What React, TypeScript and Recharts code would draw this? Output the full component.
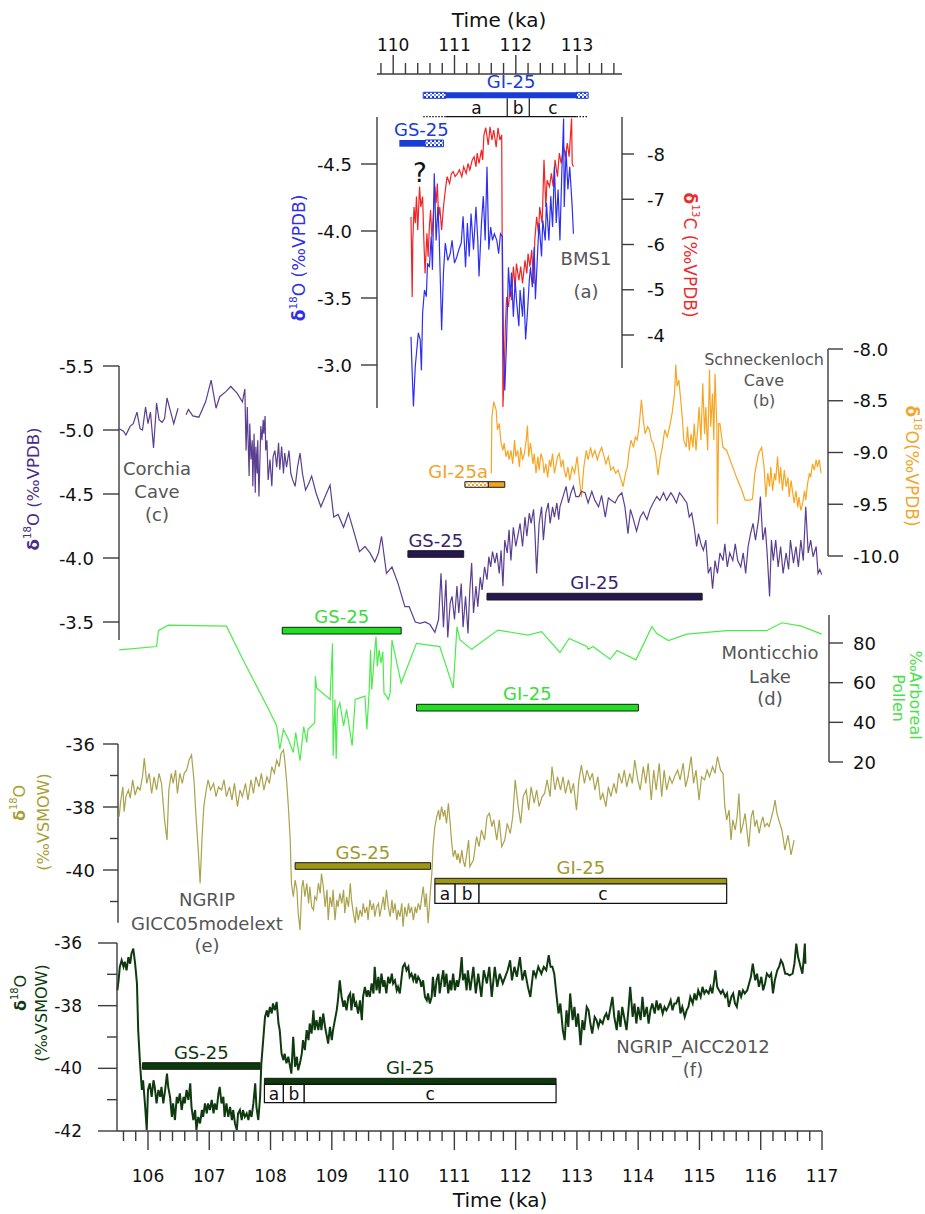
import React from 'react';
import { ComposedChart, Line, XAxis, YAxis, ReferenceArea, ReferenceLine } from 'recharts';

type Pair = [number, number | null];
type Span = [number, number];
type Phase = [string, number, number];

// ---- data (time in ka, isotope values in permil, pollen in %) ----

const bms1D18O: Pair[] = [
  [110.29, -3.21], [110.31, -2.94], [110.33, -2.69], [110.36, -2.99], [110.38, -3.09], [110.41, -3.24],
  [110.44, -3.19], [110.46, -2.96], [110.48, -3.39], [110.51, -3.56], [110.54, -3.51], [110.56, -3.76],
  [110.59, -3.73], [110.62, -3.96], [110.64, -3.71], [110.67, -4.43], [110.7, -3.93], [110.73, -4.18],
  [110.75, -3.96], [110.79, -3.26], [110.82, -3.69], [110.85, -3.91], [110.89, -3.78], [110.93, -3.83],
  [110.96, -3.93], [111.0, -3.76], [111.04, -3.81], [111.07, -3.86], [111.11, -3.91], [111.14, -4.11],
  [111.18, -3.73], [111.21, -4.06], [111.24, -3.81], [111.27, -4.13], [111.31, -3.86], [111.35, -4.18],
  [111.38, -3.93], [111.4, -3.66], [111.44, -4.06], [111.47, -4.26], [111.5, -3.93], [111.53, -4.48],
  [111.56, -3.86], [111.59, -4.03], [111.62, -3.93], [111.65, -3.98], [111.69, -3.93], [111.72, -3.83],
  [111.75, -3.98], [111.78, -3.96], [111.8, -3.09], [111.82, -2.81], [111.85, -3.19], [111.88, -3.73],
  [111.91, -3.51], [111.93, -3.69], [111.96, -3.36], [111.99, -3.63], [112.01, -3.49], [112.05, -3.29],
  [112.07, -3.56], [112.11, -3.36], [112.13, -3.58], [112.16, -3.19], [112.19, -3.39], [112.22, -3.63],
  [112.24, -3.73], [112.27, -3.58], [112.3, -3.88], [112.32, -3.49], [112.36, -3.88], [112.38, -4.06],
  [112.42, -3.81], [112.44, -4.08], [112.48, -3.93], [112.5, -4.21], [112.54, -3.93], [112.57, -4.26],
  [112.6, -4.03], [112.63, -4.48], [112.66, -4.06], [112.69, -4.31], [112.72, -3.93], [112.75, -4.43],
  [112.78, -4.84], [112.79, -4.18], [112.82, -4.6], [112.85, -4.31], [112.88, -4.48], [112.92, -4.18],
  [112.94, -3.98],
];

const bms1D13C: Pair[] = [
  [110.29, -6.61], [110.31, -4.84], [110.32, -6.1], [110.34, -6.83], [110.36, -6.47], [110.38, -7.06],
  [110.4, -6.32], [110.43, -7.28], [110.45, -6.83], [110.48, -7.06], [110.5, -6.1], [110.52, -5.36],
  [110.55, -6.25], [110.57, -5.73], [110.59, -6.39], [110.61, -6.76], [110.63, -6.17], [110.65, -6.54],
  [110.68, -7.28], [110.7, -6.91], [110.72, -7.35], [110.74, -6.61], [110.76, -6.83], [110.79, -6.32],
  [110.82, -6.83], [110.85, -7.2], [110.88, -7.5], [110.92, -7.35], [110.95, -7.57], [110.98, -7.61],
  [111.01, -7.5], [111.05, -7.57], [111.08, -7.65], [111.12, -7.5], [111.15, -7.72], [111.19, -7.57],
  [111.22, -7.79], [111.25, -7.65], [111.29, -7.87], [111.32, -7.94], [111.35, -7.72], [111.37, -8.02],
  [111.4, -7.79], [111.44, -8.09], [111.46, -7.87], [111.48, -8.42], [111.51, -8.58], [111.55, -8.2],
  [111.58, -8.6], [111.61, -8.31], [111.64, -8.53], [111.68, -8.15], [111.71, -8.58], [111.74, -8.31],
  [111.77, -8.42], [111.79, -2.41], [111.81, -3.15], [111.83, -4.18], [111.85, -4.84], [111.88, -4.62],
  [111.91, -5.06], [111.93, -4.77], [111.96, -5.51], [111.99, -5.06], [112.01, -5.58], [112.05, -5.21],
  [112.08, -5.51], [112.11, -5.14], [112.15, -5.65], [112.18, -5.36], [112.2, -5.8], [112.23, -5.51],
  [112.26, -5.88], [112.29, -5.14], [112.31, -6.1], [112.34, -6.61], [112.37, -6.25], [112.39, -6.83],
  [112.43, -6.47], [112.46, -7.87], [112.49, -6.83], [112.51, -7.42], [112.55, -7.28], [112.58, -7.57],
  [112.61, -7.28], [112.64, -7.87], [112.68, -7.5], [112.71, -8.02], [112.74, -7.79], [112.78, -8.16],
  [112.81, -7.94], [112.84, -8.24], [112.87, -7.94], [112.91, -8.79], [112.92, -7.79], [112.94, -7.72],
];

const corchiaD18O: Pair[] = [
  [105.53, -5.01], [105.6, -4.99], [105.64, -4.96], [105.71, -5.03], [105.76, -5.05], [105.82, -5.14],
  [105.87, -5.01], [105.91, -5.0], [105.96, -5.18], [106.0, -5.05], [106.04, -5.14], [106.09, -4.86],
  [106.14, -5.21], [106.18, -5.08], [106.23, -5.06], [106.27, -5.09], [106.31, -5.25], [106.37, -5.14],
  [106.42, -5.05], [106.49, -5.17], [106.55, null], [106.62, -5.12], [106.66, -5.16], [106.73, -5.11],
  [106.83, -5.1], [106.94, -5.22], [107.03, -5.39], [107.11, -5.17], [107.17, -5.26], [107.27, -5.3],
  [107.35, -5.34], [107.45, -5.29], [107.54, -5.22], [107.58, -5.32], [107.6, -4.84], [107.62, -5.18],
  [107.63, -4.97], [107.65, -4.64], [107.66, -5.05], [107.68, -4.77], [107.7, -4.92], [107.71, -4.56],
  [107.73, -4.97], [107.75, -4.51], [107.76, -4.87], [107.78, -4.66], [107.79, -4.92], [107.81, -4.48],
  [107.83, -4.84], [107.84, -5.03], [107.86, -4.92], [107.88, -5.08], [107.89, -4.97], [107.91, -5.11],
  [107.92, -4.84], [107.94, -4.92], [107.96, -4.61], [107.99, -4.77], [108.02, -4.56], [108.04, -4.79],
  [108.07, -4.84], [108.1, -4.71], [108.13, -4.9], [108.15, -4.69], [108.18, -4.87], [108.21, -4.66],
  [108.23, -4.82], [108.26, -4.71], [108.3, -4.84], [108.33, -4.66], [108.36, -4.61], [108.4, -4.56],
  [108.44, -4.71], [108.48, -4.82], [108.52, -4.66], [108.57, -4.53], [108.62, -4.58], [108.67, -4.64],
  [108.74, -4.51], [108.82, -4.4], [108.89, -4.48], [108.97, -4.57], [109.03, -4.32], [109.1, -4.34],
  [109.19, -4.24], [109.27, -4.35], [109.35, -4.22], [109.45, -4.05], [109.54, -4.09], [109.62, -4.04],
  [109.7, -3.97], [109.76, -4.04], [109.81, -4.17], [109.89, -3.88], [109.98, -3.93], [110.08, -3.8],
  [110.19, -3.62], [110.26, -3.62], [110.36, -3.5], [110.44, -3.49], [110.52, -3.5], [110.6, -3.48],
  [110.68, -3.42], [110.74, -3.52], [110.78, -3.88], [110.82, -3.46], [110.86, -3.83], [110.89, -3.38],
  [110.93, -3.65], [110.96, -3.7], [111.0, -3.52], [111.04, -3.78], [111.07, -3.57], [111.11, -3.8],
  [111.14, -3.46], [111.18, -3.7], [111.22, -3.41], [111.25, -3.75], [111.28, -3.96], [111.31, -3.57],
  [111.35, -3.78], [111.38, -3.62], [111.42, -3.85], [111.45, -3.75], [111.49, -3.93], [111.53, -3.83],
  [111.56, -4.01], [111.59, -3.93], [111.62, -4.05], [111.66, -3.96], [111.69, -4.04], [111.73, -3.88],
  [111.76, -4.06], [111.79, -3.78], [111.82, -4.14], [111.86, -4.04], [111.89, -4.22], [111.92, -3.98],
  [111.96, -4.24], [112.0, -4.09], [112.04, -4.19], [112.07, -4.27], [112.11, -4.09], [112.15, -4.32],
  [112.18, -4.17], [112.22, -4.35], [112.25, -4.27], [112.29, -4.38], [112.31, -4.22], [112.34, -3.88],
  [112.38, -4.27], [112.42, -4.4], [112.45, -4.14], [112.49, -4.35], [112.53, -4.43], [112.56, -4.27],
  [112.6, -4.4], [112.63, -4.32], [112.67, -4.43], [112.7, -4.3], [112.72, -4.4], [112.77, -4.48],
  [112.82, -4.56], [112.86, -4.43], [112.9, -4.51], [112.94, -4.56], [112.98, -4.48], [113.03, -4.48],
  [113.07, -4.52], [113.13, -4.51], [113.18, -4.43], [113.24, -4.52], [113.29, -4.45], [113.35, -4.4],
  [113.4, -4.49], [113.46, -4.32], [113.51, -4.47], [113.56, -4.45], [113.62, -4.43], [113.67, -4.48],
  [113.73, -4.51], [113.78, -4.4], [113.83, -4.19], [113.87, -4.38], [113.92, -4.3], [113.97, -4.21],
  [114.03, -4.32], [114.08, -4.36], [114.14, -4.3], [114.19, -4.38], [114.24, -4.43], [114.3, -4.48],
  [114.35, -4.45], [114.41, -4.51], [114.46, -4.45], [114.53, -4.51], [114.57, -4.48], [114.62, -4.43],
  [114.67, -4.51], [114.72, -4.48], [114.79, -4.43], [114.83, -4.32], [114.87, -4.35], [114.91, -4.24],
  [114.95, -4.09], [114.98, -4.19], [115.02, -4.11], [115.06, -4.06], [115.1, -4.14], [115.14, -3.88],
  [115.18, -3.93], [115.21, -3.76], [115.25, -3.98], [115.29, -3.88], [115.33, -4.04], [115.38, -3.98],
  [115.41, -4.11], [115.45, -3.93], [115.49, -4.04], [115.54, -3.98], [115.58, -4.11], [115.62, -3.98],
  [115.67, -3.93], [115.71, -4.04], [115.75, -3.88], [115.79, -4.09], [115.83, -4.19], [115.87, -4.27],
  [115.91, -4.14], [115.96, -4.3], [115.99, -4.48], [116.03, -4.14], [116.07, -4.24], [116.1, -4.04],
  [116.14, -3.7], [116.17, -4.14], [116.2, -3.98], [116.24, -4.14], [116.28, -3.93], [116.32, -4.09],
  [116.36, -3.88], [116.41, -4.04], [116.45, -3.91], [116.48, -4.14], [116.53, -3.96], [116.57, -4.09],
  [116.61, -3.93], [116.65, -4.14], [116.69, -3.98], [116.73, -4.4], [116.77, -4.04], [116.81, -4.14],
  [116.85, -4.01], [116.9, -4.09], [116.93, -3.88], [116.96, -3.91], [116.99, -3.87],
];

const schneckenlochD18O: Pair[] = [
  [111.6, -9.2], [111.61, -8.66], [111.64, -8.51], [111.68, -8.59], [111.7, -8.78], [111.73, -8.72],
  [111.76, -8.91], [111.79, -8.98], [111.81, -8.91], [111.84, -9.04], [111.87, -8.98], [111.89, -9.07],
  [111.92, -8.98], [111.95, -9.11], [111.98, -8.88], [112.0, -9.04], [112.03, -8.98], [112.06, -9.14],
  [112.08, -8.95], [112.11, -9.07], [112.14, -9.01], [112.17, -8.88], [112.19, -8.74], [112.21, -9.04],
  [112.24, -8.91], [112.28, -9.11], [112.3, -9.01], [112.33, -9.2], [112.36, -9.04], [112.38, -9.17],
  [112.41, -9.01], [112.44, -9.07], [112.46, -9.2], [112.49, -9.11], [112.52, -9.24], [112.55, -9.07],
  [112.57, -9.14], [112.6, -9.01], [112.63, -9.2], [112.66, -9.11], [112.68, -9.04], [112.71, -9.01],
  [112.74, -9.14], [112.77, -9.07], [112.79, -9.17], [112.82, -9.24], [112.85, -9.14], [112.88, -9.27],
  [112.92, -9.14], [112.96, -9.2], [113.0, -9.04], [113.04, -9.27], [113.07, -9.43], [113.11, -9.14],
  [113.15, -8.98], [113.18, -9.07], [113.22, -8.95], [113.25, -9.04], [113.29, -8.98], [113.33, -9.07],
  [113.36, -9.01], [113.4, -8.95], [113.44, -9.04], [113.47, -9.11], [113.51, -9.04], [113.55, -9.17],
  [113.59, -9.14], [113.63, -9.2], [113.67, -9.17], [113.72, -9.27], [113.75, -9.33], [113.79, -9.2],
  [113.82, -9.14], [113.85, -8.98], [113.88, -8.88], [113.92, -8.95], [113.95, -8.85], [113.98, -8.88],
  [114.01, -8.75], [114.05, -8.49], [114.08, -8.69], [114.11, -8.82], [114.15, -8.75], [114.18, -8.78],
  [114.21, -8.88], [114.24, -8.91], [114.28, -9.01], [114.32, -9.22], [114.36, -9.04], [114.39, -8.95],
  [114.43, -8.78], [114.47, -8.85], [114.52, -8.72], [114.55, -8.62], [114.59, -8.43], [114.61, -8.15],
  [114.63, -8.36], [114.66, -8.3], [114.69, -8.49], [114.72, -8.69], [114.74, -8.88], [114.78, -8.95],
  [114.8, -8.75], [114.83, -8.98], [114.86, -8.82], [114.89, -8.95], [114.91, -8.72], [114.94, -8.98],
  [114.97, -8.75], [114.99, -8.56], [115.02, -8.88], [115.05, -8.33], [115.08, -8.82], [115.1, -8.56],
  [115.13, -8.98], [115.16, -8.2], [115.18, -8.75], [115.21, -8.43], [115.23, -8.88], [115.25, -8.24],
  [115.28, -8.75], [115.29, -9.69], [115.31, -8.72], [115.33, -8.72], [115.38, -8.95], [115.44, -8.98],
  [115.52, -9.11], [115.6, -9.24], [115.69, -9.37], [115.74, -9.46], [115.82, -9.46], [115.86, -9.45],
  [115.9, -9.2], [115.96, -9.01], [116.01, -8.95], [116.05, -9.14], [116.08, -9.43], [116.11, -9.2],
  [116.14, -9.33], [116.16, -9.14], [116.19, -9.37], [116.22, -9.2], [116.24, -9.27], [116.27, -9.04],
  [116.3, -9.3], [116.32, -9.14], [116.35, -9.37], [116.38, -9.17], [116.41, -9.33], [116.44, -9.24],
  [116.46, -9.43], [116.49, -9.27], [116.52, -9.4], [116.54, -9.49], [116.57, -9.37], [116.6, -9.53],
  [116.62, -9.43], [116.65, -9.56], [116.68, -9.49], [116.71, -9.37], [116.73, -9.46], [116.76, -9.3],
  [116.79, -9.2], [116.81, -9.24], [116.84, -9.11], [116.87, -9.17], [116.9, -9.07], [116.92, -9.14],
  [116.95, -9.07], [116.98, -9.2],
];

const monticchioPollen: Pair[] = [
  [105.53, 76.5], [106.14, 78.2], [106.17, 86.2], [106.33, 89], [107.28, 88.5], [107.55, 71.5],
  [107.94, 48.2], [108.1, 38.2], [108.15, 26.5], [108.21, 36.5], [108.29, 31.5], [108.37, 24.8],
  [108.41, 34.8], [108.48, 20.7], [108.54, 37.8], [108.59, 29.8], [108.61, 36.5], [108.72, 39.8],
  [108.73, 63.2], [108.75, 57.3], [108.97, 51.5], [109.01, 79.8], [109.02, 23.2], [109.05, 51.5],
  [109.07, 21.5], [109.09, 46.5], [109.13, 49.8], [109.19, 38.2], [109.24, 46.5], [109.33, 28.2],
  [109.38, 51.5], [109.54, 53.2], [109.57, 36.5], [109.61, 56.5], [109.63, 76.5], [109.65, 56.5],
  [109.68, 68.2], [109.7, 76.5], [109.72, 83.2], [109.74, 68.2], [109.77, 76.5], [109.8, 69.8],
  [109.83, 75.7], [109.85, 54.8], [109.89, 53.2], [109.92, 51.5], [109.95, 54.8], [109.98, 81.5],
  [110.13, 59.8], [110.38, 79.8], [110.76, 78.2], [110.98, 57.3], [111.04, 88.2], [111.09, 81.5],
  [111.28, 76.8], [111.71, 86.5], [112.2, 84], [112.42, 85.7], [112.72, 75.2], [112.87, 82.3],
  [113.16, 78.2], [113.18, 76.8], [113.26, 78.2], [113.54, 71.8], [113.65, 76.2], [113.96, 71.5],
  [114.22, 88.2], [114.3, 84.8], [114.49, 81.2], [114.79, 84.5], [115.44, 86.2], [116.09, 86.2],
  [116.34, 90.2], [116.66, 88.5], [116.99, 84.5],
];

const ngripGicc05: Pair[] = [
  [105.53, -38.31], [105.55, -37.88], [105.59, -37.36], [105.61, -38.15], [105.64, -37.67], [105.68, -37.46],
  [105.71, -37.72], [105.75, -37.14], [105.79, -37.62], [105.83, -37.36], [105.87, -37.46], [105.91, -37.04],
  [105.94, -36.45], [105.98, -37.25], [106.02, -36.93], [106.06, -37.57], [106.1, -37.04], [106.14, -37.46],
  [106.18, -36.93], [106.22, -37.25], [106.27, -38.41], [106.31, -39.05], [106.34, -37.46], [106.38, -36.93],
  [106.41, -37.25], [106.45, -36.83], [106.48, -37.57], [106.52, -36.93], [106.56, -37.25], [106.59, -36.93],
  [106.63, -36.83], [106.67, -36.51], [106.71, -36.35], [106.75, -37.14], [106.78, -38.2], [106.82, -39.37],
  [106.85, -40.42], [106.88, -39.05], [106.91, -37.99], [106.95, -37.46], [106.98, -37.14], [107.02, -37.46],
  [107.07, -37.25], [107.11, -37.67], [107.15, -37.36], [107.2, -37.46], [107.24, -37.14], [107.28, -37.67],
  [107.33, -37.36], [107.37, -37.78], [107.41, -37.25], [107.46, -37.99], [107.5, -37.46], [107.54, -37.67],
  [107.59, -37.25], [107.63, -37.78], [107.68, -37.14], [107.72, -37.57], [107.76, -37.04], [107.81, -37.36],
  [107.85, -36.93], [107.89, -37.46], [107.94, -37.04], [107.98, -37.25], [108.02, -36.72], [108.06, -36.93],
  [108.1, -36.51], [108.14, -36.72], [108.17, -36.3], [108.21, -36.19], [108.23, -36.51], [108.26, -37.14],
  [108.29, -37.99], [108.32, -39.05], [108.34, -40.42], [108.37, -40.85], [108.4, -40.32], [108.43, -40.63],
  [108.45, -41.37], [108.48, -41.9], [108.51, -40.53], [108.53, -40.32], [108.56, -40.85], [108.59, -40.42],
  [108.62, -41.06], [108.64, -40.53], [108.67, -41.17], [108.7, -41.27], [108.72, -40.85], [108.75, -40.95],
  [108.78, -40.42], [108.81, -40.74], [108.83, -40.11], [108.86, -40.53], [108.89, -41.17], [108.92, -40.63],
  [108.94, -41.59], [108.97, -40.85], [109.0, -41.17], [109.02, -40.63], [109.05, -41.59], [109.08, -40.95],
  [109.1, -41.17], [109.13, -40.74], [109.16, -41.06], [109.19, -40.63], [109.21, -41.37], [109.24, -40.85],
  [109.27, -41.17], [109.3, -40.42], [109.32, -40.95], [109.35, -41.37], [109.38, -41.69], [109.4, -41.17],
  [109.43, -41.59], [109.46, -41.27], [109.49, -41.48], [109.51, -41.06], [109.54, -41.37], [109.57, -41.17],
  [109.59, -41.59], [109.62, -40.95], [109.65, -41.27], [109.68, -41.06], [109.7, -41.48], [109.73, -41.17],
  [109.76, -41.06], [109.78, -41.48], [109.81, -41.17], [109.84, -40.85], [109.86, -41.27], [109.89, -40.63],
  [109.92, -41.17], [109.95, -41.48], [109.98, -40.95], [110.0, -41.37], [110.03, -41.06], [110.06, -41.59],
  [110.08, -41.27], [110.11, -41.48], [110.14, -41.06], [110.16, -41.8], [110.19, -41.17], [110.22, -41.48],
  [110.25, -41.06], [110.27, -41.37], [110.3, -41.17], [110.33, -41.59], [110.36, -41.17], [110.38, -41.37],
  [110.41, -41.06], [110.44, -41.27], [110.46, -40.95], [110.49, -40.53], [110.52, -41.17], [110.54, -40.74],
  [110.57, -41.69], [110.6, -40.85], [110.63, -40.11], [110.65, -39.26], [110.68, -38.62], [110.71, -38.31],
  [110.74, -38.1], [110.76, -38.41], [110.79, -37.99], [110.82, -38.31], [110.84, -38.1], [110.87, -38.52],
  [110.9, -37.88], [110.93, -38.52], [110.95, -39.05], [110.98, -39.58], [111.01, -39.37], [111.04, -39.68],
  [111.06, -39.47], [111.09, -39.79], [111.12, -39.37], [111.14, -39.68], [111.17, -39.9], [111.2, -39.47],
  [111.23, -39.05], [111.25, -39.9], [111.31, -39.68], [111.36, -38.94], [111.4, -39.26], [111.44, -38.73],
  [111.49, -39.05], [111.53, -38.31], [111.57, -38.2], [111.61, -38.62], [111.64, -38.41], [111.69, -39.05],
  [111.73, -38.41], [111.77, -39.26], [111.82, -39.05], [111.86, -38.52], [111.91, -38.84], [111.95, -38.31],
  [111.99, -37.14], [112.04, -37.99], [112.08, -38.52], [112.12, -37.67], [112.17, -37.46], [112.21, -38.1],
  [112.25, -37.36], [112.3, -37.88], [112.34, -37.46], [112.38, -37.99], [112.43, -37.67], [112.47, -37.57],
  [112.51, -37.14], [112.56, -37.67], [112.59, -36.72], [112.64, -37.46], [112.68, -37.04], [112.73, -37.46],
  [112.77, -37.04], [112.81, -37.57], [112.86, -37.14], [112.9, -37.57], [112.94, -37.25], [112.99, -38.1],
  [113.03, -37.14], [113.07, -36.67], [113.12, -37.25], [113.16, -36.83], [113.21, -37.14], [113.25, -36.93],
  [113.29, -37.46], [113.34, -37.04], [113.38, -37.78], [113.42, -37.57], [113.47, -37.99], [113.51, -37.36],
  [113.55, -37.67], [113.6, -37.25], [113.64, -37.57], [113.68, -36.93], [113.73, -37.25], [113.77, -36.83],
  [113.81, -37.36], [113.86, -36.93], [113.9, -37.25], [113.94, -36.51], [113.99, -37.14], [114.03, -37.46],
  [114.08, -36.72], [114.12, -37.25], [114.16, -36.61], [114.21, -37.78], [114.25, -36.83], [114.29, -37.46],
  [114.34, -36.61], [114.38, -37.67], [114.42, -36.83], [114.46, -37.46], [114.51, -37.04], [114.55, -37.25],
  [114.59, -37.04], [114.64, -36.83], [114.68, -37.14], [114.73, -36.61], [114.77, -37.36], [114.81, -37.04],
  [114.86, -36.4], [114.9, -37.25], [114.94, -36.83], [114.99, -37.78], [115.03, -37.04], [115.08, -37.14],
  [115.12, -36.83], [115.16, -37.04], [115.21, -36.72], [115.25, -36.93], [115.29, -36.4], [115.34, -36.83],
  [115.38, -36.93], [115.41, -37.99], [115.44, -38.41], [115.48, -38.1], [115.51, -39.05], [115.54, -38.41],
  [115.58, -38.73], [115.61, -38.31], [115.64, -37.57], [115.67, -38.84], [115.71, -38.52], [115.74, -38.2],
  [115.77, -38.73], [115.8, -39.26], [115.84, -38.31], [115.87, -38.1], [115.9, -38.62], [115.93, -38.41],
  [115.97, -38.84], [116.0, -38.52], [116.03, -38.31], [116.06, -38.62], [116.1, -38.52], [116.13, -38.62],
  [116.16, -38.41], [116.2, -38.1], [116.23, -37.78], [116.26, -38.2], [116.29, -38.41], [116.34, -38.73],
  [116.39, -39.37], [116.44, -38.89], [116.49, -39.52], [116.54, -39.05],
];

const ngripAicc2012: Pair[] = [
  [105.5, -37.51], [105.52, -37.19], [105.54, -36.76], [105.57, -36.55], [105.6, -36.76], [105.62, -36.6],
  [105.65, -36.87], [105.68, -36.45], [105.71, -36.66], [105.73, -36.34], [105.76, -36.18], [105.79, -36.66],
  [105.82, -37.29], [105.84, -38.78], [105.87, -39.84], [105.9, -40.69], [105.92, -40.38], [105.95, -41.12],
  [105.98, -41.97], [106.0, -40.69], [106.03, -40.48], [106.06, -40.91], [106.09, -40.38], [106.11, -40.59],
  [106.14, -41.12], [106.17, -40.69], [106.2, -40.91], [106.22, -40.59], [106.25, -41.12], [106.28, -40.69],
  [106.31, -40.17], [106.33, -40.59], [106.36, -40.91], [106.39, -41.55], [106.41, -41.12], [106.44, -41.65],
  [106.47, -40.91], [106.49, -41.12], [106.52, -40.8], [106.55, -41.33], [106.58, -40.91], [106.6, -41.12],
  [106.63, -40.69], [106.66, -41.01], [106.69, -40.48], [106.71, -41.23], [106.74, -41.65], [106.77, -41.33],
  [106.79, -41.97], [106.82, -41.55], [106.85, -41.76], [106.88, -41.33], [106.9, -41.55], [106.93, -41.12],
  [106.96, -41.44], [106.98, -41.12], [107.01, -41.33], [107.04, -41.01], [107.07, -41.44], [107.09, -41.12],
  [107.12, -41.33], [107.15, -40.8], [107.17, -40.59], [107.2, -41.12], [107.23, -40.91], [107.25, -41.55],
  [107.28, -41.12], [107.31, -41.55], [107.34, -41.23], [107.37, -41.65], [107.39, -41.33], [107.42, -41.76],
  [107.45, -41.97], [107.47, -41.44], [107.5, -41.33], [107.53, -41.65], [107.55, -41.33], [107.58, -41.55],
  [107.61, -41.44], [107.64, -41.65], [107.66, -41.33], [107.69, -41.55], [107.72, -41.12], [107.75, -40.48],
  [107.77, -41.23], [107.8, -41.65], [107.83, -40.91], [107.85, -39.84], [107.88, -39.1], [107.91, -38.36],
  [107.94, -38.15], [107.96, -38.36], [107.99, -38.04], [108.02, -38.25], [108.04, -37.93], [108.07, -38.15],
  [108.1, -37.88], [108.13, -38.57], [108.15, -38.78], [108.18, -39.53], [108.21, -39.74], [108.23, -39.53],
  [108.26, -39.84], [108.29, -39.63], [108.32, -39.95], [108.34, -40.17], [108.37, -38.99], [108.4, -39.95],
  [108.43, -39.63], [108.45, -40.06], [108.48, -39.84], [108.51, -39.53], [108.53, -39.1], [108.56, -39.42],
  [108.59, -38.78], [108.62, -39.1], [108.64, -38.57], [108.67, -38.89], [108.7, -38.15], [108.72, -38.78],
  [108.75, -38.46], [108.78, -38.78], [108.81, -38.36], [108.83, -38.78], [108.86, -38.25], [108.89, -38.68],
  [108.92, -38.99], [108.94, -39.21], [108.97, -38.68], [109.0, -39.1], [109.02, -38.78], [109.05, -38.46],
  [109.08, -38.15], [109.1, -37.83], [109.13, -37.19], [109.16, -37.72], [109.19, -38.04], [109.21, -37.83],
  [109.24, -38.15], [109.27, -37.72], [109.3, -37.61], [109.32, -38.15], [109.35, -37.61], [109.38, -38.04],
  [109.4, -37.93], [109.43, -38.25], [109.46, -37.83], [109.49, -38.46], [109.51, -37.72], [109.54, -37.4],
  [109.57, -37.72], [109.59, -37.51], [109.62, -37.72], [109.65, -37.29], [109.68, -37.61], [109.7, -36.76],
  [109.73, -37.51], [109.76, -37.08], [109.78, -37.61], [109.81, -36.98], [109.84, -37.4], [109.86, -37.19],
  [109.89, -37.61], [109.92, -37.08], [109.95, -37.29], [109.98, -36.98], [110.0, -37.29], [110.03, -37.19],
  [110.06, -37.51], [110.08, -37.4], [110.11, -37.61], [110.14, -37.08], [110.16, -36.76], [110.19, -36.66],
  [110.22, -36.87], [110.25, -36.76], [110.27, -37.08], [110.3, -36.98], [110.33, -37.19], [110.36, -36.98],
  [110.38, -37.29], [110.41, -37.08], [110.44, -37.19], [110.46, -37.4], [110.49, -37.19], [110.52, -37.72],
  [110.55, -37.83], [110.57, -37.61], [110.6, -37.93], [110.63, -37.72], [110.65, -37.08], [110.68, -37.72],
  [110.71, -37.19], [110.74, -36.98], [110.76, -37.61], [110.79, -37.19], [110.82, -36.87], [110.84, -37.4],
  [110.87, -36.98], [110.9, -37.61], [110.93, -37.19], [110.95, -37.51], [110.98, -36.98], [111.01, -37.51],
  [111.04, -37.19], [111.06, -37.4], [111.09, -37.08], [111.12, -36.45], [111.14, -37.19], [111.17, -36.98],
  [111.2, -37.51], [111.22, -36.87], [111.26, -37.51], [111.31, -36.76], [111.35, -37.61], [111.39, -36.98],
  [111.44, -37.72], [111.48, -36.87], [111.53, -37.29], [111.57, -36.76], [111.61, -37.72], [111.66, -36.76],
  [111.7, -37.4], [111.74, -36.98], [111.79, -37.29], [111.83, -37.08], [111.87, -36.87], [111.91, -36.55],
  [111.94, -37.19], [111.98, -36.76], [112.02, -37.08], [112.07, -36.45], [112.11, -37.19], [112.15, -36.87],
  [112.2, -37.4], [112.24, -37.72], [112.29, -36.87], [112.33, -37.08], [112.37, -36.76], [112.42, -36.98],
  [112.46, -36.76], [112.5, -36.87], [112.54, -36.39], [112.57, -36.76], [112.6, -36.76], [112.63, -36.98],
  [112.67, -37.72], [112.7, -38.25], [112.73, -37.93], [112.77, -38.78], [112.8, -39.1], [112.83, -38.15],
  [112.86, -38.68], [112.89, -37.61], [112.93, -38.46], [112.96, -38.04], [112.99, -38.68], [113.02, -38.25],
  [113.06, -39.26], [113.09, -38.46], [113.12, -38.78], [113.16, -38.04], [113.19, -38.15], [113.22, -38.57],
  [113.25, -38.89], [113.29, -38.36], [113.32, -38.46], [113.35, -38.68], [113.38, -38.46], [113.42, -38.57],
  [113.45, -38.36], [113.48, -38.25], [113.51, -38.46], [113.55, -38.04], [113.58, -37.72], [113.61, -38.36],
  [113.65, -38.78], [113.68, -38.15], [113.71, -38.68], [113.74, -38.04], [113.78, -38.46], [113.81, -38.78],
  [113.84, -38.15], [113.87, -37.4], [113.91, -38.36], [113.94, -37.93], [113.97, -38.57], [114.0, -38.04],
  [114.04, -38.46], [114.07, -37.72], [114.1, -38.36], [114.14, -38.04], [114.17, -38.57], [114.2, -38.15],
  [114.23, -37.93], [114.27, -38.25], [114.3, -37.83], [114.33, -38.15], [114.36, -37.93], [114.4, -38.25],
  [114.43, -38.04], [114.46, -38.15], [114.49, -38.04], [114.53, -37.83], [114.56, -38.15], [114.59, -37.93],
  [114.62, -37.93], [114.66, -37.72], [114.69, -38.25], [114.72, -38.04], [114.76, -38.36], [114.79, -38.15],
  [114.82, -38.04], [114.85, -37.72], [114.89, -37.93], [114.92, -37.61], [114.95, -37.83], [114.98, -37.51],
  [115.02, -37.72], [115.05, -37.4], [115.08, -37.61], [115.11, -37.51], [115.15, -37.61], [115.18, -37.4],
  [115.21, -37.61], [115.24, -37.19], [115.26, -36.87], [115.29, -37.4], [115.32, -37.51], [115.35, -37.61],
  [115.38, -37.51], [115.42, -37.72], [115.45, -37.61], [115.48, -38.04], [115.52, -37.72], [115.55, -37.61],
  [115.58, -37.93], [115.61, -38.04], [115.65, -37.51], [115.68, -37.72], [115.71, -37.51], [115.74, -37.61],
  [115.78, -37.51], [115.81, -37.29], [115.84, -37.08], [115.87, -36.66], [115.91, -37.19], [115.94, -36.98],
  [115.97, -37.4], [116.01, -37.08], [116.04, -37.51], [116.07, -37.29], [116.1, -36.98], [116.14, -37.08],
  [116.17, -36.98], [116.2, -37.61], [116.23, -37.19], [116.27, -36.87], [116.3, -36.76], [116.33, -36.55],
  [116.36, -36.66], [116.4, -36.98], [116.43, -36.98], [116.47, -37.03], [116.52, -36.98], [116.55, -36.66],
  [116.58, -36.02], [116.61, -36.45], [116.65, -36.76], [116.68, -36.98], [116.7, -36.55], [116.72, -36.02],
  [116.73, -36.66],
];

// event intervals (ka)
const bmsGI25: Span = [110.86, 112.99];
const bmsGI25Uncertain: Span[] = [[110.49, 110.86], [112.99, 113.18]];
const bmsGI25Phases: Phase[] = [['a', 110.86, 111.86], ['b', 111.86, 112.22], ['c', 112.22, 112.99]];
const bmsGS25: Span = [110.1, 110.52];
const bmsGS25Uncertain: Span = [110.52, 110.82];
const corchiaGS25: Span = [110.24, 111.15];
const corchiaGI25: Span = [111.53, 115.04];
const schneckGI25a: Span = [111.55, 111.82];
const schneckGI25aUncertain: Span = [111.17, 111.55];
const monticchioGS25: Span = [108.19, 110.13];
const monticchioGI25: Span = [110.38, 114.0];
const gicc05GS25: Span = [108.4, 110.61];
const gicc05GI25: Span = [110.68, 115.44];
const gicc05Phases: Phase[] = [['a', 110.68, 111.01], ['b', 111.01, 111.4], ['c', 111.4, 115.44]];
const aiccGS25: Span = [105.91, 107.83];
const aiccGI25: Span = [107.9, 112.66];
const aiccPhases: Phase[] = [['a', 107.9, 108.21], ['b', 108.21, 108.55], ['c', 108.55, 112.66]];

// axis ticks
const topMajor = [110, 111, 112, 113];
const bottomMajor = [106, 107, 108, 109, 110, 111, 112, 113, 114, 115, 116, 117];
const bmsO18Ticks = [-4.5, -4.0, -3.5, -3.0];
const bmsC13Ticks = [-8, -7, -6, -5, -4];
const corchiaTicks = [-5.5, -5.0, -4.5, -4.0, -3.5];
const schneckTicks = [-8.0, -8.5, -9.0, -9.5, -10.0];
const pollenTicks = [20, 40, 60, 80];
const giccMajor = [-36, -38, -40];
const giccTicks = [-36, -37, -38, -39, -40, -41];
const aiccMajor = [-36, -38, -40, -42];
const aiccTicks = [-36, -37, -38, -39, -40, -41, -42];

// ---- layout ----
const W = 925;
const H = 1214;
const YW = 40;
const XH = 30;
const FONT = '"DejaVu Sans", Verdana, sans-serif';
const AX = '#3c3c3c';
const NOTE = '#555555';

// the whole figure shares one time scale: 106 ka at x=148, 61.3 px per ka
const timeAt = (px: number) => 106 + (px - 148) / 61.3;
const linear = (pa: number, va: number, pb: number, vb: number) => (px: number) =>
  va + ((px - pa) * (vb - va)) / (pb - pa);

const bmsO = linear(164, -4.5, 365, -3.0);
const bmsC = linear(154, -8, 335, -4);
const corO = linear(366, -5.5, 622, -3.5);
const schO = linear(349, -8, 556, -10);
const pol = linear(643, 80, 762, 20);
const gicc = linear(744, -36, 870, -40);
const aicc = linear(943, -36, 1131, -42);

const rows = (pairs: Pair[]) => pairs.map(([t, v]) => ({ t, v }));
const range = (from: number, to: number, step: number) => {
  const out: number[] = [];
  for (let i = 0; from + i * step <= to + 1e-9; i++) out.push(Number((from + i * step).toFixed(2)));
  return out;
};
const isIn = (v: number, list: number[]) => list.some((m) => Math.abs(m - v) < 1e-6);
const fmt1 = (v: number) => v.toFixed(1);
const fmt0 = (v: number) => v.toFixed(0);

type TickCfg = {
  axis: number;
  side: 'left' | 'right' | 'top' | 'bottom';
  major: number;
  minor: number;
  gap: number;
  size: number;
  majors: number[];
  fmt: (v: number) => string;
};

const makeTick = (c: TickCfg) => (p: any) => {
  const v = p.payload.value as number;
  const big = isIn(v, c.majors);
  const len = big ? c.major : c.minor;
  const txt = { fontSize: c.size, fontFamily: FONT, fill: '#111' };
  if (c.side === 'left' || c.side === 'right') {
    const d = c.side === 'left' ? -1 : 1;
    return (
      <g>
        <line x1={c.axis} x2={c.axis + d * len} y1={p.y} y2={p.y} stroke={AX} strokeWidth={1.4} />
        {big && (
          <text x={c.axis + d * c.gap} y={p.y} textAnchor={d < 0 ? 'end' : 'start'} dominantBaseline="central" {...txt}>
            {c.fmt(v)}
          </text>
        )}
      </g>
    );
  }
  const d = c.side === 'top' ? -1 : 1;
  return (
    <g>
      <line x1={p.x} x2={p.x} y1={c.axis} y2={c.axis + d * len} stroke={AX} strokeWidth={1.4} />
      {big && (
        <text x={p.x} y={c.axis + d * c.gap} textAnchor="middle" dominantBaseline="central" {...txt}>
          {c.fmt(v)}
        </text>
      )}
    </g>
  );
};

const band = (key: string, span: Span, y1: number, y2: number, fill: string, yAxisId: string, label?: string, labelFill?: string, stroke = '#1a1a1a') => (
  <ReferenceArea
    key={key}
    x1={span[0]}
    x2={span[1]}
    y1={y1}
    y2={y2}
    yAxisId={yAxisId}
    fill={fill}
    fillOpacity={1}
    stroke={stroke}
    strokeWidth={1}
    ifOverflow="visible"
    label={label ? { value: label, position: 'top', offset: 4, fill: labelFill, fontSize: 18, fontFamily: FONT } : undefined}
  />
);

const phases = (key: string, list: Phase[], y1: number, y2: number, yAxisId: string, boxed: boolean) =>
  list.map(([name, a, b]) => (
    <ReferenceArea
      key={`${key}-${name}`}
      x1={a}
      x2={b}
      y1={y1}
      y2={y2}
      yAxisId={yAxisId}
      fill={boxed ? '#ffffff' : 'none'}
      fillOpacity={1}
      stroke={boxed ? '#111' : 'none'}
      strokeWidth={1.2}
      ifOverflow="visible"
      label={{ value: name, position: 'center', fill: '#111', fontSize: 17, fontFamily: FONT }}
    />
  ));

const axisSeg = (key: string, x: number, y1: number, y2: number, yAxisId: string) => (
  <ReferenceLine
    key={key}
    yAxisId={yAxisId}
    segment={[{ x, y: y1 }, { x, y: y2 }]}
    stroke={AX}
    strokeWidth={1.4}
    ifOverflow="visible"
  />
);

const hSeg = (key: string, a: number, b: number, y: number, yAxisId: string, dashed = false) => (
  <ReferenceLine
    key={key}
    yAxisId={yAxisId}
    segment={[{ x: a, y }, { x: b, y }]}
    stroke="#111"
    strokeWidth={1.2}
    strokeDasharray={dashed ? '1.5 1.5' : undefined}
    ifOverflow="visible"
  />
);

const Layer = ({ children }: { children: React.ReactNode }) => (
  <div style={{ position: 'absolute', left: 0, top: 0, width: W, height: H }}>{children}</div>
);

const series = (key: string, data: Pair[], color: string, yAxisId: string, width = 1.2) => (
  <Line
    key={key}
    data={rows(data)}
    dataKey="v"
    yAxisId={yAxisId}
    type="linear"
    stroke={color}
    strokeWidth={width}
    dot={false}
    activeDot={false}
    connectNulls={false}
    isAnimationActive={false}
  />
);

const Iso = ({ iso, el, rest, size }: { iso: string; el: string; rest: string; size: number }) => (
  <>
    <tspan fontWeight="bold">δ</tspan>
    <tspan fontSize={size * 0.62} dy={-size * 0.36}>{iso}</tspan>
    <tspan dy={size * 0.36}>{el}{rest}</tspan>
  </>
);

const PanelBMS = () => {
  const L = 377, R = 622, T = 74, B = 408;
  const blue = '#2f2ff2';
  const barBlue = '#1a3cd6';
  return (
    <Layer>
      <ComposedChart width={W} height={H} margin={{ left: L - YW, right: W - R - YW, top: T - XH, bottom: H - B }}>
        <XAxis
          xAxisId={0}
          orientation="top"
          type="number"
          dataKey="t"
          domain={[timeAt(L), timeAt(R)]}
          ticks={range(109.8, 113.6, 0.2)}
          interval={0}
          height={XH}
          tickLine={false}
          axisLine={{ stroke: AX, strokeWidth: 1.4 }}
          tick={makeTick({ axis: T, side: 'top', major: 19, minor: 11, gap: 29, size: 17, majors: topMajor, fmt: fmt0 })}
        />
        <YAxis
          yAxisId="o"
          orientation="left"
          type="number"
          domain={[bmsO(T), bmsO(B)]}
          reversed
          ticks={bmsO18Ticks}
          interval={0}
          width={YW}
          axisLine={false}
          tickLine={false}
          tick={makeTick({ axis: L, side: 'left', major: 16, minor: 8, gap: 25, size: 18, majors: bmsO18Ticks, fmt: fmt1 })}
        />
        <YAxis
          yAxisId="c"
          orientation="right"
          type="number"
          domain={[bmsC(T), bmsC(B)]}
          reversed
          ticks={bmsC13Ticks}
          interval={0}
          width={YW}
          axisLine={false}
          tickLine={false}
          tick={makeTick({ axis: R, side: 'right', major: 12, minor: 6, gap: 25, size: 18, majors: bmsC13Ticks, fmt: fmt0 })}
        />
        {axisSeg('la', timeAt(L), bmsO(117), bmsO(B), 'o')}
        {axisSeg('ra', timeAt(R), bmsC(117), bmsC(368), 'c')}
        {series('c13', bms1D13C, '#f02424', 'c')}
        {series('o18', bms1D18O, blue, 'o')}
        {band('gi', bmsGI25, bmsO(92.3), bmsO(98.3), barBlue, 'o', 'GI-25', barBlue, 'none')}
        {bmsGI25Uncertain.map((s, i) => band(`giu${i}`, s, bmsO(92.3), bmsO(98.3), 'url(#dotsBlue)', 'o', undefined, undefined, barBlue))}
        {phases('bp', bmsGI25Phases, bmsO(98.3), bmsO(116.7), 'o', false)}
        {hSeg('base', bmsGI25[0], bmsGI25[1], bmsO(116.7), 'o')}
        {bmsGI25Uncertain.map((s, i) => hSeg(`based${i}`, s[0], s[1], bmsO(116.7), 'o', true))}
        {bmsGI25Phases.slice(1).map(([n, a]) => (
          <ReferenceLine key={`sep${n}`} yAxisId="o" segment={[{ x: a, y: bmsO(98.3) }, { x: a, y: bmsO(116.7) }]} stroke="#111" strokeWidth={1.2} ifOverflow="visible" />
        ))}
        {band('gs', bmsGS25, bmsO(140), bmsO(146.7), barBlue, 'o', undefined, undefined, 'none')}
        {band('gsu', bmsGS25Uncertain, bmsO(140), bmsO(146.7), 'url(#dotsBlue)', 'o', undefined, undefined, barBlue)}
        {band('gsl', [bmsGS25[0], bmsGS25Uncertain[1]], bmsO(140), bmsO(146.7), 'none', 'o', 'GS-25', barBlue, 'none')}
      </ComposedChart>
    </Layer>
  );
};

const PanelCaves = () => {
  const L = 119, R = 828, T = 349, B = 640;
  const purpleBar = '#27164f';
  return (
    <Layer>
      <ComposedChart width={W} height={H} margin={{ left: L - YW, right: W - R - YW, top: T, bottom: H - B }}>
        <XAxis xAxisId={0} type="number" dataKey="t" domain={[timeAt(L), timeAt(R)]} hide />
        <YAxis
          yAxisId="cor"
          orientation="left"
          type="number"
          domain={[corO(T), corO(B)]}
          reversed
          ticks={corchiaTicks}
          interval={0}
          width={YW}
          axisLine={false}
          tickLine={false}
          tick={makeTick({ axis: L, side: 'left', major: 16, minor: 8, gap: 25, size: 18, majors: corchiaTicks, fmt: fmt1 })}
        />
        <YAxis
          yAxisId="sch"
          orientation="right"
          type="number"
          domain={[schO(B), schO(T)]}
          ticks={schneckTicks}
          interval={0}
          width={YW}
          axisLine={false}
          tickLine={false}
          tick={makeTick({ axis: R, side: 'right', major: 15, minor: 8, gap: 25, size: 18, majors: schneckTicks, fmt: fmt1 })}
        />
        {axisSeg('cl', timeAt(L), corO(366), corO(B), 'cor')}
        {axisSeg('sr', timeAt(R), schO(349), schO(556), 'sch')}
        {series('sch', schneckenlochD18O, '#f7a623', 'sch')}
        {series('cor', corchiaD18O, '#5a3f90', 'cor')}
        {band('cgs', corchiaGS25, corO(550.7), corO(557.3), purpleBar, 'cor', 'GS-25', '#3a2470')}
        {band('cgi', corchiaGI25, corO(593.3), corO(600), purpleBar, 'cor', 'GI-25', '#3a2470')}
        {band('sgi', schneckGI25a, schO(481.7), schO(487.3), '#f2a21c', 'sch')}
        {band('sgiu', schneckGI25aUncertain, schO(481.7), schO(487.3), 'url(#dotsOrange)', 'sch')}
      </ComposedChart>
    </Layer>
  );
};

const PanelMonticchio = () => {
  const L = 119, R = 829, T = 615, B = 762;
  const green = '#4ceb4c';
  const bar = '#1fe01f';
  return (
    <Layer>
      <ComposedChart width={W} height={H} margin={{ left: L, right: W - R - YW, top: T, bottom: H - B }}>
        <XAxis xAxisId={0} type="number" dataKey="t" domain={[timeAt(L), timeAt(R)]} hide />
        <YAxis
          yAxisId="pol"
          orientation="right"
          type="number"
          domain={[pol(B), pol(T)]}
          ticks={pollenTicks}
          interval={0}
          width={YW}
          axisLine={{ stroke: AX, strokeWidth: 1.4 }}
          tickLine={false}
          tick={makeTick({ axis: R, side: 'right', major: 14, minor: 7, gap: 24, size: 18, majors: pollenTicks, fmt: fmt0 })}
        />
        {series('pol', monticchioPollen, green, 'pol')}
        {band('mgs', monticchioGS25, pol(627.3), pol(634), bar, 'pol', 'GS-25', '#3bdc3b')}
        {band('mgi', monticchioGI25, pol(704.3), pol(711), bar, 'pol', 'GI-25', '#3bdc3b')}
      </ComposedChart>
    </Layer>
  );
};

const PanelGicc = () => {
  const L = 118, R = 822, T = 744, B = 932;
  const olive = '#aaa24c';
  const bar = '#9d9712';
  return (
    <Layer>
      <ComposedChart width={W} height={H} margin={{ left: L - YW, right: W - R, top: T, bottom: H - B }}>
        <XAxis xAxisId={0} type="number" dataKey="t" domain={[timeAt(L), timeAt(R)]} hide />
        <YAxis
          yAxisId="e"
          orientation="left"
          type="number"
          domain={[gicc(B), gicc(T)]}
          ticks={giccTicks}
          interval={0}
          width={YW}
          axisLine={false}
          tickLine={false}
          tick={makeTick({ axis: L, side: 'left', major: 15, minor: 8, gap: 23, size: 18, majors: giccMajor, fmt: fmt0 })}
        />
        {axisSeg('el', timeAt(L), -36, gicc(922.7), 'e')}
        {series('e', ngripGicc05, olive, 'e')}
        {band('egs', gicc05GS25, gicc(862.7), gicc(869.3), bar, 'e', 'GS-25', '#a19a30')}
        {band('egi', gicc05GI25, gicc(878.3), gicc(884), bar, 'e', 'GI-25', '#a19a30')}
        {phases('ep', gicc05Phases, gicc(884), gicc(903.3), 'e', true)}
      </ComposedChart>
    </Layer>
  );
};

const PanelAicc = () => {
  const L = 117, T = 943, B = 1131;
  const dark = '#0f3a0f';
  return (
    <Layer>
      <ComposedChart width={W} height={H} margin={{ left: L - YW, right: W - 822, top: T, bottom: H - B - XH }}>
        <XAxis
          xAxisId={0}
          type="number"
          dataKey="t"
          domain={[timeAt(L), 117]}
          ticks={range(105.6, 117, 0.2)}
          interval={0}
          height={XH}
          tickLine={false}
          axisLine={{ stroke: AX, strokeWidth: 1.4 }}
          tick={makeTick({ axis: B, side: 'bottom', major: 19, minor: 10, gap: 45, size: 17, majors: bottomMajor, fmt: fmt0 })}
        />
        <YAxis
          yAxisId="f"
          orientation="left"
          type="number"
          domain={[aicc(B), aicc(T)]}
          ticks={aiccTicks}
          interval={0}
          width={YW}
          axisLine={{ stroke: AX, strokeWidth: 1.4 }}
          tickLine={false}
          tick={makeTick({ axis: L, side: 'left', major: 19, minor: 10, gap: 35, size: 17, majors: aiccMajor, fmt: fmt0 })}
        />
        {series('f', ngripAicc2012, dark, 'f', 2)}
        {band('fgs', aiccGS25, aicc(1062.7), aicc(1069.3), '#0b3a0b', 'f', 'GS-25', dark)}
        {band('fgi', aiccGI25, aicc(1078.3), aicc(1084.3), '#0b3a0b', 'f', 'GI-25', dark)}
        {phases('fp', aiccPhases, aicc(1084.3), aicc(1102.7), 'f', true)}
      </ComposedChart>
    </Layer>
  );
};

const Annotations = () => {
  const note = { fontFamily: FONT, fill: NOTE, textAnchor: 'middle' as const };
  return (
    <svg width={W} height={H} style={{ position: 'absolute', left: 0, top: 0 }}>
      <defs>
        <pattern id="dotsBlue" width="4" height="4" patternUnits="userSpaceOnUse">
          <rect width="4" height="4" fill="#ffffff" />
          <rect x="0" y="0" width="2" height="2" fill="#1a3cd6" />
          <rect x="2" y="2" width="2" height="2" fill="#7f95f0" />
        </pattern>
        <pattern id="dotsOrange" width="4" height="4" patternUnits="userSpaceOnUse">
          <rect width="4" height="4" fill="#ffffff" />
          <rect x="0" y="0" width="2" height="2" fill="#f2a21c" />
          <rect x="2" y="2" width="2" height="2" fill="#f8cf86" />
        </pattern>
      </defs>

      <text x={499} y={20} textAnchor="middle" dominantBaseline="central" fontSize={20} fontFamily={FONT} fill="#111">Time (ka)</text>
      <text x={500} y={1200} textAnchor="middle" dominantBaseline="central" fontSize={20} fontFamily={FONT} fill="#111">Time (ka)</text>

      <text x={420} y={182} textAnchor="middle" fontSize={26} fontFamily={FONT} fill="#111">?</text>

      <text x={586} y={265} fontSize={18} {...note}>BMS1</text>
      <text x={586} y={298} fontSize={18} {...note}>(a)</text>

      <text x={157} y={475} fontSize={18} {...note}>Corchia</text>
      <text x={157} y={498} fontSize={18} {...note}>Cave</text>
      <text x={157} y={521} fontSize={18} {...note}>(c)</text>

      <text x={764} y={365} fontSize={16} {...note}>Schneckenloch</text>
      <text x={764} y={386} fontSize={16} {...note}>Cave</text>
      <text x={764} y={406} fontSize={16} {...note}>(b)</text>

      <text x={770} y={659} fontSize={18} {...note}>Monticchio</text>
      <text x={770} y={683} fontSize={18} {...note}>Lake</text>
      <text x={770} y={705} fontSize={18} {...note}>(d)</text>

      <text x={207} y={906} fontSize={18} {...note}>NGRIP</text>
      <text x={207} y={930} fontSize={18} {...note}>GICC05modelext</text>
      <text x={207} y={952} fontSize={18} {...note}>(e)</text>

      <text x={693} y={1053} fontSize={18} {...note}>NGRIP_AICC2012</text>
      <text x={693} y={1076} fontSize={18} {...note}>(f)</text>

      <text x={488} y={478} textAnchor="end" fontSize={18} fontFamily={FONT} fill="#f2a32a">GI-25a</text>

      <text transform="translate(299,258) rotate(-90)" textAnchor="middle" dominantBaseline="central" fontSize={17} fontFamily={FONT} fill="#2f2fe6">
        <Iso iso="18" el="O" rest=" (‰VPDB)" size={17} />
      </text>
      <text transform="translate(690,255) rotate(90)" textAnchor="middle" dominantBaseline="central" fontSize={17} fontFamily={FONT} fill="#ee2a2a">
        <Iso iso="13" el="C" rest=" (‰VPDB)" size={17} />
      </text>
      <text transform="translate(33,489) rotate(-90)" textAnchor="middle" dominantBaseline="central" fontSize={16.5} fontFamily={FONT} fill="#4a2c84">
        <Iso iso="18" el="O" rest=" (‰VPDB)" size={16.5} />
      </text>
      <text transform="translate(912,466) rotate(90)" textAnchor="middle" dominantBaseline="central" fontSize={17} fontFamily={FONT} fill="#f5a52a">
        <Iso iso="18" el="O" rest="(‰VPDB)" size={17} />
      </text>
      <text transform="translate(915,695) rotate(90)" textAnchor="middle" dominantBaseline="central" fontSize={16} fontFamily={FONT} fill="#4ae04a">‰Arboreal</text>
      <text transform="translate(898,698) rotate(90)" textAnchor="middle" dominantBaseline="central" fontSize={16} fontFamily={FONT} fill="#4ae04a">Pollen</text>

      <text transform="translate(19,803) rotate(-90)" textAnchor="middle" dominantBaseline="central" fontSize={16} fontFamily={FONT} fill="#a9a035">
        <Iso iso="18" el="O" rest="" size={16} />
      </text>
      <text transform="translate(43,822) rotate(-90)" textAnchor="middle" dominantBaseline="central" fontSize={16} fontFamily={FONT} fill="#a9a035">(‰VSMOW)</text>

      <text transform="translate(20,993) rotate(-90)" textAnchor="middle" dominantBaseline="central" fontSize={16} fontFamily={FONT} fill="#0e3b0e">
        <Iso iso="18" el="O" rest="" size={16} />
      </text>
      <text transform="translate(41,1013) rotate(-90)" textAnchor="middle" dominantBaseline="central" fontSize={16} fontFamily={FONT} fill="#0e3b0e">(‰VSMOW)</text>
    </svg>
  );
};

export default function App() {
  return (
    <div style={{ position: 'absolute', left: 0, top: 0, width: W, height: H, background: '#ffffff', fontFamily: FONT }}>
      <PanelMonticchio />
      <PanelGicc />
      <PanelAicc />
      <PanelCaves />
      <PanelBMS />
      <Annotations />
    </div>
  );
}
